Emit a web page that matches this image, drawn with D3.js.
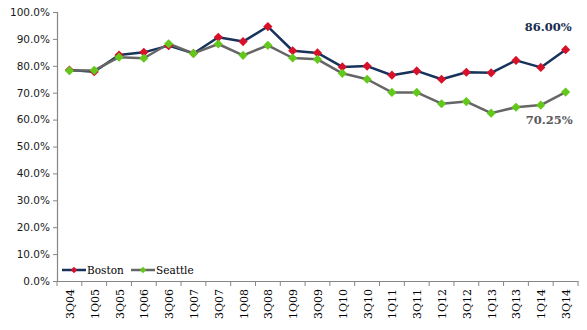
<!DOCTYPE html>
<html><head><meta charset="utf-8">
<script src="https://cdn.jsdelivr.net/npm/d3@7"></script>
<style>body{margin:0;background:#fff}svg{display:block}</style>
</head><body>
<script>
const categories = ["3Q04","1Q05","3Q05","1Q06","3Q06","1Q07","3Q07","1Q08","3Q08","1Q09","3Q09","1Q10","3Q10","1Q11","3Q11","1Q12","3Q12","1Q13","3Q13","1Q14","3Q14"];
const boston  = [78.4,77.8,84.0,85.0,87.5,84.6,90.6,89.0,94.6,85.6,84.8,79.6,79.9,76.5,78.1,75.0,77.6,77.4,82.0,79.4,86.0];
const seattle = [78.2,78.3,83.2,82.8,88.2,84.6,88.1,83.9,87.6,82.9,82.4,77.2,75.0,70.1,70.1,65.9,66.7,62.4,64.6,65.4,70.25];
const yTicks = [0,10,20,30,40,50,60,70,80,90,100];
const endLabels = ["86.00%","70.25%"];

(function(){
const W=587,H=330;
const svg=d3.select("body").append("svg").attr("width",W).attr("height",H);
const mL=57,mR=578,mT=12,mB=281;
const x=d3.scaleBand().domain(categories).range([mL,mR]);
const y=d3.scaleLinear().domain([0,100]).range([mB,mT]);

// y axis
const yAxis=svg.append("g").attr("transform",`translate(${mL},0)`)
  .call(d3.axisLeft(y).tickValues(yTicks).tickSize(4).tickFormat(d=>d.toFixed(1)+"%"));
yAxis.select(".domain").attr("stroke","#868686").attr("stroke-width",1.2);
yAxis.selectAll(".tick line").attr("stroke","#868686");
yAxis.selectAll(".tick text").attr("font-family","DejaVu Sans, Verdana, sans-serif").attr("font-size","10.5px").attr("fill","#1a1a1a").attr("x",-7);

// x axis
const xAxis=svg.append("g").attr("transform",`translate(0,${mB})`)
  .call(d3.axisBottom(x).tickSize(0).tickFormat(""));
xAxis.select(".domain").attr("stroke","#868686").attr("stroke-width",1.2);
xAxis.selectAll(".tick").remove();
const edges=d3.range(categories.length+1).map(i=>mL+i*x.bandwidth());
svg.append("g").selectAll("line").data(edges).join("line")
  .attr("x1",d=>d).attr("x2",d=>d).attr("y1",mB).attr("y2",mB+5)
  .attr("stroke","#868686").attr("stroke-width",1);
svg.append("g").selectAll("text").data(categories).join("text")
  .attr("transform",d=>`translate(${x(d)+x.bandwidth()/2+4.5},${mB+8}) rotate(-90)`)
  .attr("text-anchor","end")
  .attr("font-family","DejaVu Serif, serif").attr("font-size","11px").attr("fill","#000")
  .text(d=>d);

const line=d3.line().x((d,i)=>x(categories[i])+x.bandwidth()/2).y(d=>y(d));
const series=[
  {name:"Boston",data:boston,stroke:"#17335c",marker:"#d8112b"},
  {name:"Seattle",data:seattle,stroke:"#666666",marker:"#62c81a"}
];
const dia=r=>`M0,${-r}L${r},0L0,${r}L${-r},0Z`;
series.forEach(s=>{
  svg.append("path").datum(s.data).attr("d",line).attr("fill","none")
    .attr("stroke",s.stroke).attr("stroke-width",2.5).attr("stroke-linejoin","round");
});
series.forEach(s=>{
  svg.append("g").selectAll("path").data(s.data).join("path")
    .attr("d",dia(4.6))
    .attr("transform",(d,i)=>`translate(${x(categories[i])+x.bandwidth()/2},${y(d)})`)
    .attr("fill",s.marker);
});

// end labels
const lastX=x(categories[categories.length-1])+x.bandwidth()/2;
svg.append("text").attr("x",lastX+6).attr("y",y(boston[boston.length-1])-19)
  .attr("text-anchor","end").attr("font-family","DejaVu Serif, serif").attr("font-weight","bold")
  .attr("font-size","11.5px").attr("fill","#1a2d4f").text(endLabels[0]);
svg.append("text").attr("x",lastX+7).attr("y",y(seattle[seattle.length-1])+32)
  .attr("text-anchor","end").attr("font-family","DejaVu Serif, serif").attr("font-weight","bold")
  .attr("font-size","11.5px").attr("fill","#595959").text(endLabels[1]);

// legend
const lg=svg.append("g").attr("transform",`translate(62,270)`);
series.forEach((s,i)=>{
  const g=lg.append("g").attr("transform",`translate(${i*69},0)`);
  g.append("line").attr("x1",0).attr("x2",24).attr("stroke",s.stroke).attr("stroke-width",2.5);
  g.append("path").attr("d",dia(3.2)).attr("transform","translate(12,0)").attr("fill",s.marker);
  g.append("text").attr("x",25).attr("y",4).attr("font-family","DejaVu Serif, serif")
    .attr("font-size","10.5px").attr("fill","#000").text(s.name);
});
})();
</script>
</body></html>
